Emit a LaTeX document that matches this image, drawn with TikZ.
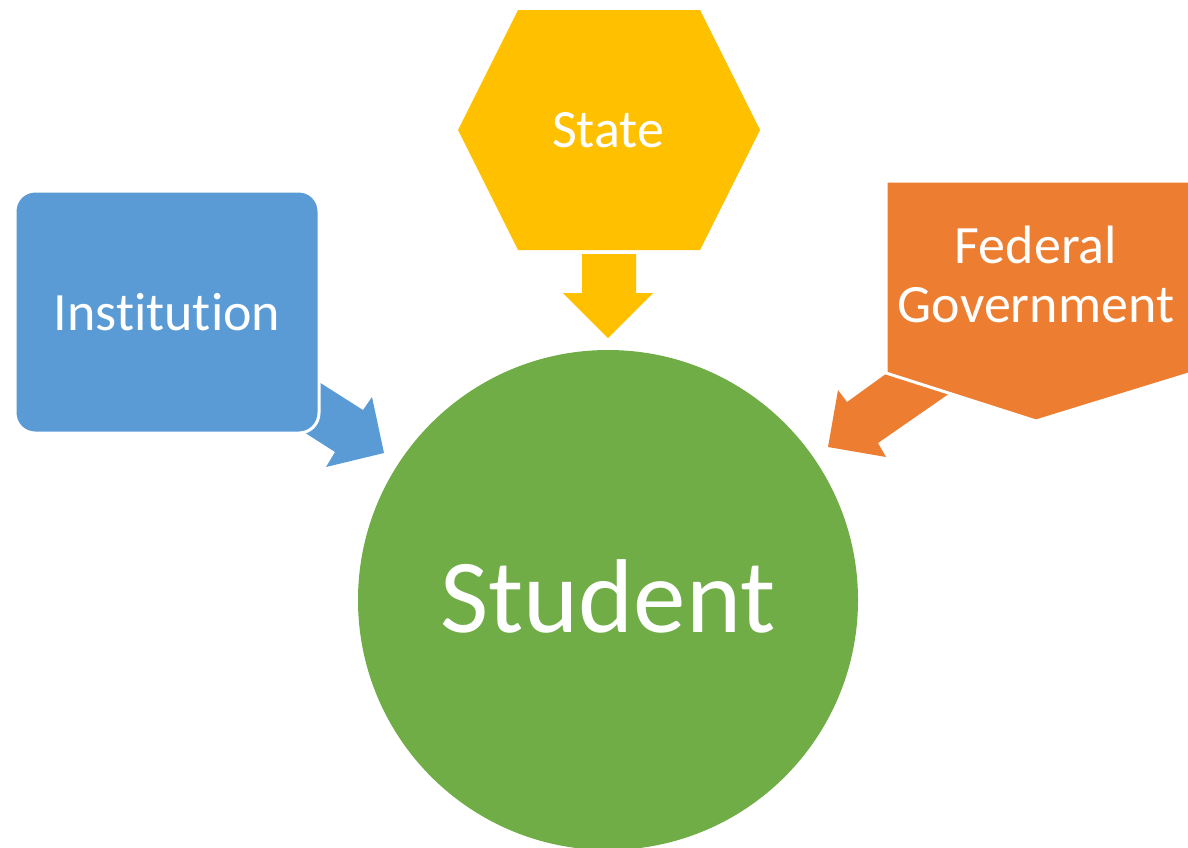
\documentclass[tikz,border=0pt]{standalone}
\usepackage{fontspec}
\setmainfont{Carlito}[Ligatures=NoCommon]
\definecolor{instblue}{HTML}{5B9BD5}
\definecolor{stateyellow}{HTML}{FFC000}
\definecolor{fedorange}{HTML}{ED7D31}
\definecolor{studgreen}{HTML}{70AD47}
\begin{document}
\begin{tikzpicture}[x=1pt,y=-1pt,
  lbl/.style={text=white, inner sep=0pt, anchor=base, font=\fontsize{54}{59}\selectfont},
  outline/.style={draw=white, line width=3pt},
  blockarrow/.style={draw=none}]
\useasboundingbox (0,0) rectangle (1188,847);

% block arrows, drawn first so that the shapes cover their tails
\fill[instblue, blockarrow] (300,370) -- (363,410) -- (372,397) -- (384,453)
  -- (326,467) -- (335,452) -- (285,420) -- cycle;
\fill[stateyellow, blockarrow] (582,254) -- (636,254) -- (636,293) -- (653,293)
  -- (608,338) -- (563,293) -- (582,293) -- cycle;
\fill[fedorange, blockarrow] (919,350) -- (847,402) -- (838,390) -- (828,447)
  -- (886,457) -- (878,443) -- (976,375) -- cycle;

% institution
\node[fill=instblue, outline, rounded corners=20pt, minimum width=304pt,
  minimum height=242pt, inner sep=0pt] (inst) at (167,312) {};
\node[lbl] (instlabel) at (167,330) {Institution};

% state
\path[fill=stateyellow] (458,130) -- (518,10) -- (700,10) -- (760,130)
  -- (700,250) -- (518,250) -- cycle;
\node[lbl] (statelabel) at (608,147) {State};

% federal government
\path[fill=fedorange, outline] (886,181) -- (1192,181) -- (1192,373)
  -- (1036,421) -- (886,373) -- cycle;
\node[lbl, align=center] (fedlabel) at (1036,322) {Federal\\Government};

% student
\node[circle, fill=studgreen, minimum size=500pt, inner sep=0pt] (student) at (608,600) {};
\node[lbl, font=\fontsize{105}{110}\selectfont] (studentlabel) at (608,632) {Student};
\end{tikzpicture}
\end{document}
